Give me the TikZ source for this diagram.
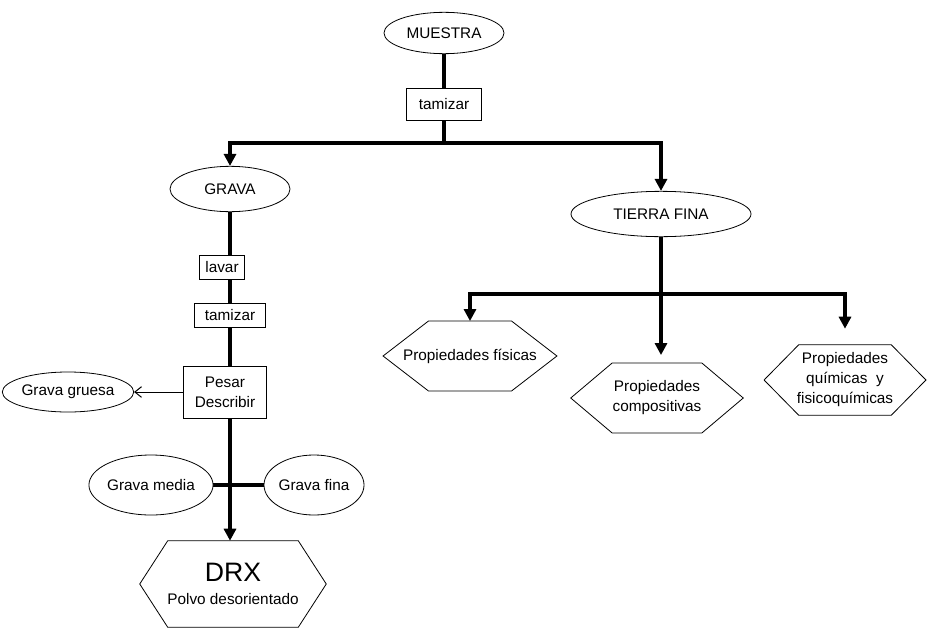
\documentclass[tikz,border=0pt]{standalone}
\usepackage{fontspec}
\setmainfont{Liberation Sans}
\usepackage{tikz}
\usetikzlibrary{arrows.meta, positioning, shapes.geometric, backgrounds, calc}

% hexagon outline round a named node: #1 node, #2 inset of the points
\newcommand{\hexout}[2]{%
  \draw[hexline] (#1.west) -- ([xshift=#2]#1.north west) -- ([xshift=-#2]#1.north east)
    -- (#1.east) -- ([xshift=-#2]#1.south east) -- ([xshift=#2]#1.south west) -- cycle;}

\begin{document}
\begin{tikzpicture}[
  x=0.75pt, y=-0.75pt,
  txt/.style={font=\fontsize{11.5}{15}\selectfont, align=center, inner sep=0pt},
  elli/.style={txt, ellipse, draw, line width=0.6pt, fill=white},
  box/.style={txt, rectangle, draw, line width=0.6pt, fill=white},
  hexa/.style={txt, rectangle},
  hexline/.style={line width=0.6pt},
  bar/.style={line width=3pt},
  bararrow/.style={line width=3pt, -{Triangle[length=9pt,width=9pt]}},
  thinarrow/.style={line width=0.75pt, -{Straight Barb[length=5pt,width=8pt]}}
]
  \useasboundingbox (0,0) rectangle (928,628);

  \node[elli, minimum width=90pt, minimum height=31pt] (muestra) at (444,33) {MUESTRA};
  \node[box, minimum width=56pt, minimum height=24pt] (tam1) at (444,104) {tamizar};
  \coordinate (split) at (444,143);

  \node[elli, minimum width=90pt, minimum height=34pt] (grava) at (230,189) {GRAVA};
  \node[elli, minimum width=135pt, minimum height=34pt] (tierra) at (661,214) {TIERRA FINA};

  \node[box, minimum width=34pt, minimum height=18pt] (lavar) at (222,267) {lavar};
  \node[box, minimum width=53pt, minimum height=18pt] (tam2) at (230,315) {tamizar};
  \node[box, minimum width=62pt, minimum height=39pt] (pesar) at (225,392) {Pesar\\Describir};
  \node[elli, minimum width=85pt, minimum height=30pt] (gruesa) at (68,392) {Grava gruesa};
  \node[elli, minimum width=73pt, minimum height=45pt] (media) at (151,485) {Grava media};
  \node[elli, minimum width=73pt, minimum height=45pt] (fina) at (314,485) {Grava fina};
  \node[hexa, minimum width=139.5pt, minimum height=64.5pt] (drx) at (233,584)
    {{\fontsize{20}{22}\selectfont DRX}\\[2pt]Polvo desorientado};
  \hexout{drx}{21pt}

  \coordinate (split2) at (661,294);
  \node[hexa, minimum width=130pt, minimum height=52pt] (fis) at (470,356) {Propiedades físicas};
  \node[hexa, minimum width=129pt, minimum height=52pt] (comp) at (657,398) {Propiedades\\compositivas};
  \node[hexa, minimum width=121pt, minimum height=52.5pt] (quim) at (845,380) {Propiedades\\químicas\ \ y\\fisicoquímicas};
  \hexout{fis}{34pt}
  \hexout{comp}{31pt}
  \hexout{quim}{26pt}

  \begin{scope}[on background layer]
    \draw[bar] (muestra) -- (tam1);
    \draw[bar] (tam1) -- (split);
    \draw[bararrow] (split) -| (grava);
    \draw[bararrow] (split) -| (tierra);
    \draw[bararrow] (grava.south) -- (grava.south |- drx.north);
    \draw[bar] (media.east) -- (fina.west);
    \draw[bar] (tierra) -- (split2);
    \draw[bararrow] (split2) -| (fis);
    \draw[bararrow, shorten >=6pt] (split2) -- (split2 |- comp.north);
    \draw[bararrow, shorten >=12pt] (split2) -| (quim.north);
  \end{scope}
  \draw[thinarrow] (pesar.west) -- (gruesa.east);
\end{tikzpicture}
\end{document}
